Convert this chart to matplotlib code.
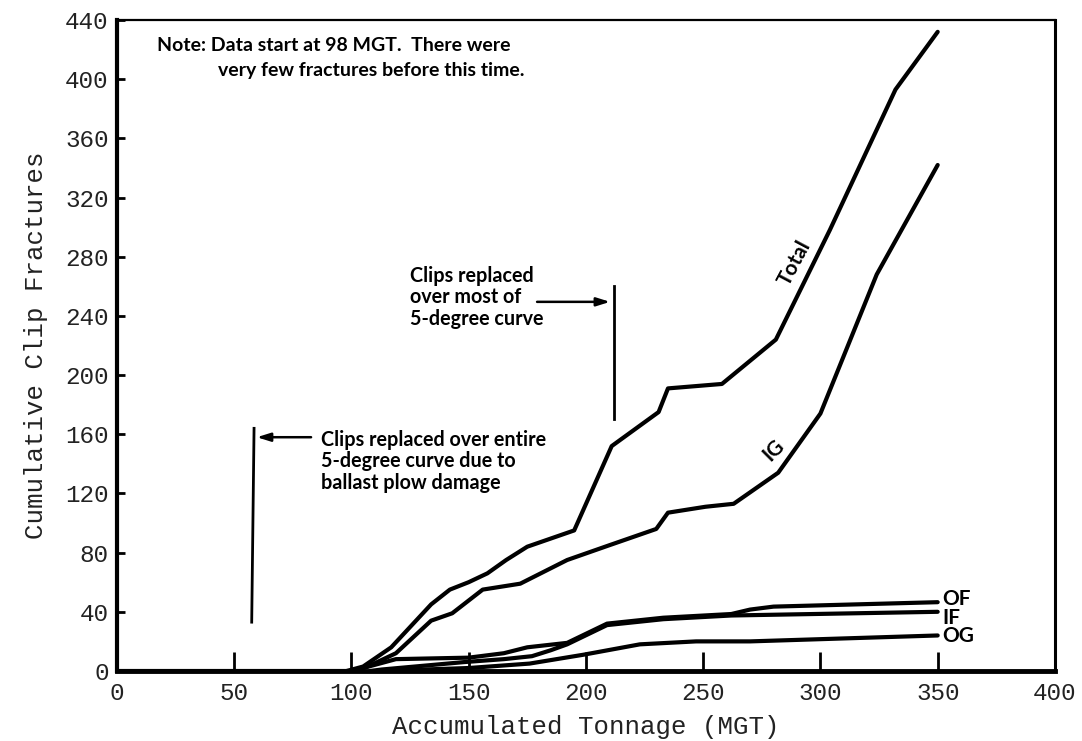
import matplotlib
matplotlib.use("Agg")
from matplotlib import pyplot as plt

# Cumulative clip fractures
total_x = [98, 105, 117, 134, 142, 150, 158, 166, 175, 195, 211, 231, 235, 258, 281, 304, 332, 350]
total_y = [0, 3, 16, 45, 55, 60, 66, 75, 84, 95, 152, 175, 191, 194, 224, 298, 393, 432]

ig_x = [100, 107, 119, 134, 143, 156, 172, 192, 210, 230, 235, 251, 263, 282, 300, 324, 350]
ig_y = [0, 3, 12, 34, 39, 55, 59, 75, 85, 96, 107, 111, 113, 134, 174, 268, 342]

of_x = [100, 105, 119, 150, 165, 175, 192, 209, 233, 262, 270, 280, 350]
of_y = [0, 2, 8, 9, 12, 16, 19, 32, 36, 38.5, 41.5, 43.5, 46.5]

if_x = [108, 113, 148, 165, 177, 185, 192, 209, 233, 262, 350]
if_y = [0, 1, 6, 8, 10, 14, 18, 31, 35, 37.5, 40]

og_x = [112, 150, 176, 199, 223, 247, 270, 350]
og_y = [0, 2, 5, 11, 18, 20, 20, 24]

x_ticks = [0, 50, 100, 150, 200, 250, 300, 350, 400]
y_ticks = list(range(0, 441, 40))

mono = "Liberation Mono"
note_font = dict(family="Lato", fontweight="bold", color="black")

fig = plt.figure(figsize=(10.82, 7.41), dpi=100)
ax = fig.add_axes([0.108, 0.0945, 0.867, 0.8785])

lw = 3.0
for xs, ys in [(total_x, total_y), (ig_x, ig_y), (of_x, of_y), (if_x, if_y), (og_x, og_y)]:
    ax.plot(xs, ys, color="black", lw=lw, solid_capstyle="round", solid_joinstyle="round")
# flat zero line before the data start
ax.plot([0, 100], [0, 0], color="black", lw=lw)

ax.set_xlim(0, 400)
ax.set_ylim(0, 440)
ax.set_xticks(x_ticks)
ax.set_yticks(y_ticks)
ax.tick_params(axis="x", direction="in", length=14, width=2, pad=8, labelsize=17.5, labelcolor="#222")
ax.tick_params(axis="y", direction="in", length=6, width=2, pad=6, labelsize=17.5, labelcolor="#222")
for lab in ax.get_xticklabels() + ax.get_yticklabels():
    lab.set_family(mono)

for side, w in [("left", 3), ("bottom", 3.5), ("top", 1.6), ("right", 2.2)]:
    ax.spines[side].set_linewidth(w)

ax.set_xlabel("Accumulated Tonnage (MGT)", family=mono, fontsize=18.5, color="#222", labelpad=7)
ax.set_ylabel("Cumulative Clip Fractures", family=mono, fontsize=18.5, color="#222", labelpad=12)

# note at the top
ax.text(17, 423, "Note: Data start at 98 MGT.  There were", fontsize=14, va="center", **note_font)
ax.text(43, 406, "very few fractures before this time.", fontsize=14, va="center", **note_font)

# first marker: clips replaced over entire curve
ax.plot([58.5, 57.5], [164, 33], color="black", lw=2)
ax.annotate("", xy=(58.5, 158), xytext=(84, 158),
            arrowprops=dict(arrowstyle="-|>,head_length=0.8,head_width=0.25", color="black", lw=1.8))
ax.text(87, 163, "Clips replaced over entire\n5-degree curve due to\nballast plow damage",
        fontsize=14.2, va="top", ha="left", linespacing=1.1, **note_font)

# second marker: clips replaced over most of curve
ax.plot([212, 212], [260, 170], color="black", lw=2)
ax.annotate("", xy=(211.5, 249.5), xytext=(178, 249.5),
            arrowprops=dict(arrowstyle="-|>,head_length=0.8,head_width=0.25", color="black", lw=1.8))
ax.text(125, 274, "Clips replaced\nover most of\n5-degree curve",
        fontsize=14.2, va="top", ha="left", linespacing=1.1, **note_font)

# curve labels
ax.text(289, 276, "Total", fontsize=15, rotation=62, ha="center", va="center", **note_font)
ax.text(280, 149, "IG", fontsize=15, rotation=45, ha="center", va="center", **note_font)
ax.text(352, 48.5, "OF", fontsize=15, ha="left", va="center", **note_font)
ax.text(352, 36, "IF", fontsize=15, ha="left", va="center", **note_font)
ax.text(352, 23.5, "OG", fontsize=15, ha="left", va="center", **note_font)

fig.savefig("out.png", dpi=100)
